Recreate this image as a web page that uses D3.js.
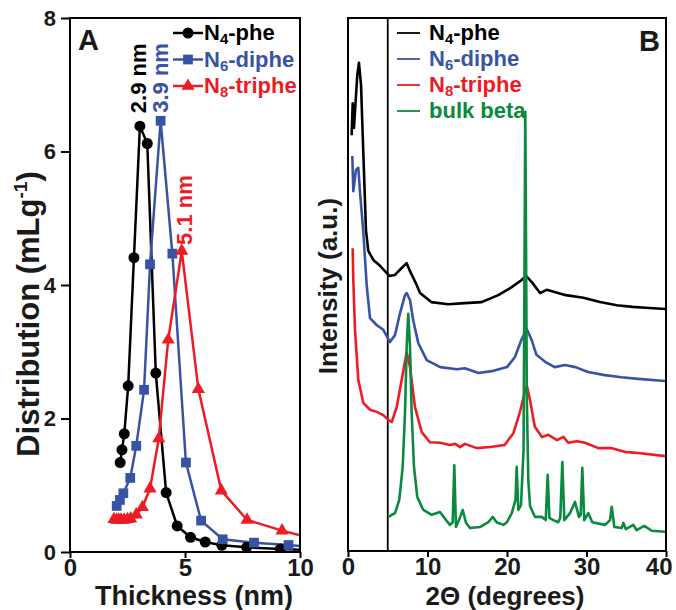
<!DOCTYPE html>
<html>
<head>
<meta charset="utf-8">
<script src="https://d3js.org/d3.v7.min.js"></script>
<style>
  body { margin: 0; background: #fff; }
  svg text { font-family: "Liberation Sans", Arial, sans-serif; font-weight: bold; }
</style>
</head>
<body>
<div id="chart"></div>
<script>
  // Panel A: pore thickness distribution
  var phe4X = [2.18, 2.26, 2.36, 2.53, 2.78, 3.04, 3.36, 3.73, 4.18, 4.66, 5.24, 5.88, 6.6, 7.68, 9.15, 10];
  var phe4Y = [1.34, 1.53, 1.77, 2.49, 4.41, 6.38, 6.12, 2.68, 0.89, 0.39, 0.22, 0.15, 0.10, 0.07, 0.045, 0.035];
  var diphe6X = [2.03, 2.17, 2.32, 2.62, 2.88, 3.22, 3.48, 3.94, 4.45, 5.04, 5.70, 6.64, 8.0, 9.5, 10];
  var diphe6Y = [0.69, 0.78, 0.88, 1.11, 1.59, 2.43, 4.31, 6.46, 4.47, 1.34, 0.47, 0.19, 0.14, 0.105, 0.09];
  var triphe8X = [1.91, 2.03, 2.12, 2.22, 2.35, 2.5, 2.64, 2.88, 3.15, 3.48, 3.86, 4.27, 4.86, 5.58, 6.58, 7.7, 9.22, 10];
  var triphe8Y = [0.49, 0.48, 0.48, 0.48, 0.48, 0.49, 0.50, 0.56, 0.67, 0.95, 1.70, 3.18, 4.51, 2.44, 0.92, 0.48, 0.32, 0.25];
  var peakLabels = ["2.9 nm", "3.9 nm", "5.1 nm"];
  var thickTicks = [0, 5, 10];
  var distTicks = [0, 2, 4, 6, 8];

  // Panel B: XRD patterns (2theta, intensity a.u.)
  var xrdPhe4X = [0.46, 0.59, 0.75, 1.17, 1.38, 1.64, 1.92, 2.26, 2.55, 3.19, 4.03, 4.65, 5.2, 5.91, 6.75, 7.38, 7.8, 8.64, 9.06, 10.48, 12.6, 14.7, 16.8, 18.9, 20.6, 21.8, 22.4, 23.2, 24.15, 25.0, 27.4, 29.6, 31.7, 33.8, 35.8, 37.9, 39.9];
  var xrdPhe4Y = [78.0, 84.0, 79.4, 89.3, 91.6, 87.4, 75.0, 60.2, 56.3, 54.6, 53.5, 52.5, 51.6, 51.8, 53.1, 54.0, 52.5, 49.9, 48.4, 46.7, 46.3, 46.5, 46.7, 48.0, 49.5, 50.8, 51.6, 50.3, 48.4, 49.0, 48.0, 47.5, 46.7, 46.1, 45.8, 45.6, 45.4];
  var xrdDiphe6X = [0.54, 0.67, 1.0, 1.3, 1.5, 1.92, 2.35, 2.77, 3.6, 4.44, 5.28, 5.91, 6.54, 7.17, 7.38, 7.8, 8.2, 8.84, 9.9, 11.6, 13.7, 14.7, 16.4, 18.3, 20.0, 21.0, 21.8, 22.5, 23.1, 23.7, 24.8, 26.0, 27.3, 28.6, 30.2, 32.3, 34.4, 36.5, 39.9];
  var xrdDiphe6Y = [74.1, 67.5, 71.5, 71.9, 67.5, 60.0, 49.9, 43.7, 42.4, 41.5, 39.2, 40.5, 44.6, 48.0, 48.4, 47.1, 43.3, 39.0, 35.8, 34.5, 34.1, 34.3, 33.4, 33.8, 34.5, 36.4, 39.6, 41.6, 39.6, 36.8, 35.5, 34.5, 34.9, 34.5, 33.6, 33.0, 32.6, 32.3, 31.9];
  var xrdTriphe8X = [0.59, 0.67, 0.88, 1.3, 1.92, 2.77, 3.6, 4.44, 5.07, 5.5, 6.13, 6.75, 7.38, 7.8, 8.43, 9.27, 10.3, 11.6, 12.8, 13.5, 14.1, 14.7, 16.2, 17.9, 19.7, 20.8, 21.6, 22.2, 22.5, 22.9, 23.5, 24.4, 25.2, 26.3, 27.1, 27.7, 28.8, 29.8, 31.5, 33.2, 34.8, 36.5, 39.9];
  var xrdTriphe8Y = [56.8, 50.8, 41.5, 32.1, 27.8, 26.5, 26.1, 25.5, 24.6, 24.2, 27.0, 32.1, 37.3, 34.5, 27.0, 22.3, 20.4, 20.3, 19.9, 20.1, 19.5, 20.1, 19.3, 19.5, 19.9, 22.1, 25.9, 29.6, 31.0, 28.3, 23.3, 21.4, 21.8, 20.8, 21.4, 20.3, 20.6, 20.3, 19.3, 19.3, 18.6, 18.4, 17.8];
  var xrdBulkX = [5.07, 5.91, 6.45, 6.88, 7.17, 7.38, 7.58, 7.8, 8.01, 8.3, 8.72, 9.47, 10.53, 11.57, 12.33, 12.83, 13.17, 13.37, 13.58, 13.96, 14.43, 14.84, 15.35, 16.6, 17.65, 18.2, 18.7, 19.53, 20.0, 20.6, 21.07, 21.22, 21.42, 21.76, 22.08, 22.3, 22.5, 22.68, 22.9, 23.52, 24.36, 24.87, 25.12, 25.33, 25.82, 26.45, 26.7, 26.96, 27.21, 27.92, 28.55, 29.06, 29.27, 29.47, 29.72, 30.23, 30.73, 32.33, 32.96, 33.17, 33.5, 34.43, 34.63, 34.94, 35.89, 36.31, 37.27, 38.2, 39.87];
  var xrdBulkY = [6.4, 7.1, 9.6, 15.8, 25.9, 38.3, 44.5, 38.3, 25.9, 15.8, 10.1, 7.7, 6.8, 7.3, 5.8, 4.9, 5.4, 16.1, 4.5, 5.8, 7.7, 5.3, 4.3, 4.5, 5.4, 6.4, 5.4, 4.9, 5.4, 7.1, 9.6, 15.8, 7.7, 8.6, 18.9, 82.4, 28.3, 13.3, 8.4, 6.4, 6.4, 5.8, 14.3, 6.2, 5.8, 5.4, 6.2, 16.7, 5.8, 7.1, 9.2, 6.4, 6.8, 15.6, 5.8, 7.1, 5.4, 4.9, 5.8, 8.3, 4.5, 4.3, 5.3, 4.1, 4.9, 3.9, 4.7, 3.8, 3.6];
  var angleTicks = [0, 10, 20, 30, 40];
  var guideAngle = 5;

  var colors = { black: "#000000", blue: "#3953a4", red: "#ed1c24", green: "#0a8a3e" };

  var W = 676, H = 610;
  var svg = d3.select("#chart").append("svg").attr("width", W).attr("height", H);

  function zip(xs, ys) { return xs.map(function(x, i) { return { x: x, y: ys[i] }; }); }

  // subscript / superscript helper
  function richText(sel, parts, size) {
    parts.forEach(function(p) {
      var t = sel.append("tspan").text(p[0]);
      if (p[1] === "sub") t.attr("font-size", size * 0.68).attr("dy", size * 0.2);
      else if (p[1] === "sup") t.attr("font-size", size * 0.62).attr("dy", -size * 0.38);
      else if (p[1] === "back") t.attr("dy", -size * 0.2);
      else if (p[1] === "down") t.attr("dy", size * 0.38);
    });
  }

  // ---------------- Panel A ----------------
  var xA = d3.scaleLinear().domain([0, 10]).range([70, 300]);
  var yA = d3.scaleLinear().domain([0, 8]).range([552, 18]);

  svg.append("clipPath").attr("id", "clipA").append("rect")
    .attr("x", xA(0)).attr("y", yA(8)).attr("width", xA(10) - xA(0)).attr("height", yA(0) - yA(8));

  var gA = svg.append("g").attr("clip-path", "url(#clipA)");
  var lineA = d3.line().x(function(d) { return xA(d.x); }).y(function(d) { return yA(d.y); });

  var seriesA = [
    { data: zip(phe4X, phe4Y), color: colors.black, sym: d3.symbolCircle, size: 95 },
    { data: zip(diphe6X, diphe6Y), color: colors.blue, sym: d3.symbolSquare, size: 95 },
    { data: zip(triphe8X, triphe8Y), color: colors.red, sym: d3.symbolTriangle, size: 75 }
  ];

  seriesA.forEach(function(s) {
    gA.append("path").datum(s.data)
      .attr("fill", "none").attr("stroke", s.color).attr("stroke-width", 2.5)
      .attr("d", lineA);
  });
  seriesA.forEach(function(s) {
    gA.selectAll(null).data(s.data.filter(function(d) { return d.x < 10; }))
      .enter().append("path")
      .attr("transform", function(d) { return "translate(" + xA(d.x) + "," + yA(d.y) + ")"; })
      .attr("d", d3.symbol().type(s.sym).size(s.size))
      .attr("fill", s.color);
  });

  // axes A
  var axYA = svg.append("g").attr("transform", "translate(" + xA(0) + ",0)")
    .call(d3.axisLeft(yA).tickValues(distTicks).tickSize(9).tickPadding(5).tickFormat(d3.format("d")));
  var axXA = svg.append("g").attr("transform", "translate(0," + yA(0) + ")")
    .call(d3.axisBottom(xA).tickValues(thickTicks).tickSize(6).tickPadding(1).tickFormat(d3.format("d")));
  [axYA, axXA].forEach(function(ax) {
    ax.select(".domain").remove();
    ax.selectAll(".tick line").attr("stroke", "#000").attr("stroke-width", 2);
  });
  axYA.selectAll("text").attr("font-size", 22).attr("fill", "#1a1a1a");
  axXA.selectAll("text").attr("font-size", 24).attr("fill", "#1a1a1a");

  svg.append("rect")
    .attr("x", xA(0)).attr("y", yA(8)).attr("width", xA(10) - xA(0)).attr("height", yA(0) - yA(8))
    .attr("fill", "none").attr("stroke", "#000").attr("stroke-width", 2);

  svg.append("text").attr("x", 78).attr("y", 50).attr("font-size", 29).attr("fill", "#1a1a1a").text("A");

  // peak labels
  var peaks = [
    { x: phe4X[5], y: phe4Y[5], dx: 6, dy: -13, c: colors.black },
    { x: diphe6X[7], y: diphe6Y[7], dx: 7, dy: -8, c: colors.blue },
    { x: triphe8X[12], y: triphe8Y[12], dx: 10, dy: -6, c: colors.red }
  ];
  peaks.forEach(function(p, i) {
    svg.append("text")
      .attr("transform", "translate(" + (xA(p.x) + p.dx) + "," + (yA(p.y) + p.dy) + ") rotate(-90)")
      .attr("font-size", 22).attr("fill", p.c).text(peakLabels[i]);
  });

  // legend A
  var legA = [
    { parts: [["N"], ["4", "sub"], ["-phe", "back"]], c: colors.black, sym: d3.symbolCircle, size: 95 },
    { parts: [["N"], ["6", "sub"], ["-diphe", "back"]], c: colors.blue, sym: d3.symbolSquare, size: 95 },
    { parts: [["N"], ["8", "sub"], ["-triphe", "back"]], c: colors.red, sym: d3.symbolTriangle, size: 75 }
  ];
  legA.forEach(function(l, i) {
    var yy = 33 + i * 26.5;
    svg.append("line").attr("x1", 173).attr("x2", 203).attr("y1", yy).attr("y2", yy)
      .attr("stroke", l.c).attr("stroke-width", 2.5);
    svg.append("path").attr("transform", "translate(188," + yy + ")")
      .attr("d", d3.symbol().type(l.sym).size(l.size)).attr("fill", l.c);
    var t = svg.append("text").attr("x", 204).attr("y", yy + 7).attr("font-size", 22).attr("fill", l.c);
    richText(t, l.parts, 22);
  });

  // axis titles A
  svg.append("text").attr("x", 194).attr("y", 605).attr("text-anchor", "middle")
    .attr("font-size", 27).attr("fill", "#1a1a1a").text("Thickness (nm)");
  var yt = svg.append("text").attr("transform", "translate(39,314) rotate(-90)")
    .attr("text-anchor", "middle").attr("font-size", 31).attr("fill", "#1a1a1a");
  richText(yt, [["Distribution (mLg"], ["-1", "sup"], [")", "down"]], 31);

  // ---------------- Panel B ----------------
  var xB = d3.scaleLinear().domain([0, 40]).range([348, 666]);
  var yB = d3.scaleLinear().domain([0, 100]).range([551, 18]);

  svg.append("clipPath").attr("id", "clipB").append("rect")
    .attr("x", xB(0)).attr("y", yB(100)).attr("width", xB(40) - xB(0)).attr("height", yB(0) - yB(100));
  var gB = svg.append("g").attr("clip-path", "url(#clipB)");
  var lineB = d3.line().x(function(d) { return xB(d.x); }).y(function(d) { return yB(d.y); });

  gB.append("line").attr("x1", xB(guideAngle)).attr("x2", xB(guideAngle))
    .attr("y1", yB(0)).attr("y2", yB(100)).attr("stroke", "#000").attr("stroke-width", 1.8);

  var seriesB = [
    { data: zip(xrdPhe4X, xrdPhe4Y), c: colors.black },
    { data: zip(xrdDiphe6X, xrdDiphe6Y), c: colors.blue },
    { data: zip(xrdTriphe8X, xrdTriphe8Y), c: colors.red },
    { data: zip(xrdBulkX, xrdBulkY), c: colors.green }
  ];
  seriesB.forEach(function(s) {
    gB.append("path").datum(s.data)
      .attr("fill", "none").attr("stroke", s.c).attr("stroke-width", 2.6)
      .attr("stroke-linejoin", "round").attr("d", lineB);
  });

  var axXB = svg.append("g").attr("transform", "translate(0," + yB(0) + ")")
    .call(d3.axisBottom(xB).tickValues(angleTicks).tickSize(6).tickPadding(1).tickFormat(d3.format("d")));
  axXB.select(".domain").remove();
  axXB.selectAll(".tick line").attr("stroke", "#000").attr("stroke-width", 2);
  axXB.selectAll("text").attr("font-size", 24).attr("fill", "#1a1a1a");
  // keep the last label inside the page
  axXB.selectAll(".tick text").filter(function(d) { return d === 40; })
    .attr("text-anchor", "end").attr("x", 6);

  svg.append("rect")
    .attr("x", xB(0)).attr("y", yB(100)).attr("width", xB(40) - xB(0)).attr("height", yB(0) - yB(100))
    .attr("fill", "none").attr("stroke", "#000").attr("stroke-width", 2);

  svg.append("text").attr("x", 639).attr("y", 51).attr("font-size", 29).attr("fill", "#1a1a1a").text("B");

  var legB = [
    { parts: [["N"], ["4", "sub"], ["-phe", "back"]], c: colors.black },
    { parts: [["N"], ["6", "sub"], ["-diphe", "back"]], c: colors.blue },
    { parts: [["N"], ["8", "sub"], ["-triphe", "back"]], c: colors.red },
    { parts: [["bulk beta"]], c: colors.green }
  ];
  legB.forEach(function(l, i) {
    var yy = 33 + i * 26;
    svg.append("line").attr("x1", 397).attr("x2", 420).attr("y1", yy).attr("y2", yy)
      .attr("stroke", l.c).attr("stroke-width", 1.8);
    var t = svg.append("text").attr("x", 429).attr("y", yy + 7).attr("font-size", 22).attr("fill", l.c);
    richText(t, l.parts, 22);
  });

  svg.append("text").attr("x", 505).attr("y", 605).attr("text-anchor", "middle")
    .attr("font-size", 26).attr("fill", "#1a1a1a").text("2Θ (degrees)");
  svg.append("text").attr("transform", "translate(337,286) rotate(-90)")
    .attr("text-anchor", "middle").attr("font-size", 26).attr("fill", "#1a1a1a").text("Intensity (a.u.)");
</script>
</body>
</html>
